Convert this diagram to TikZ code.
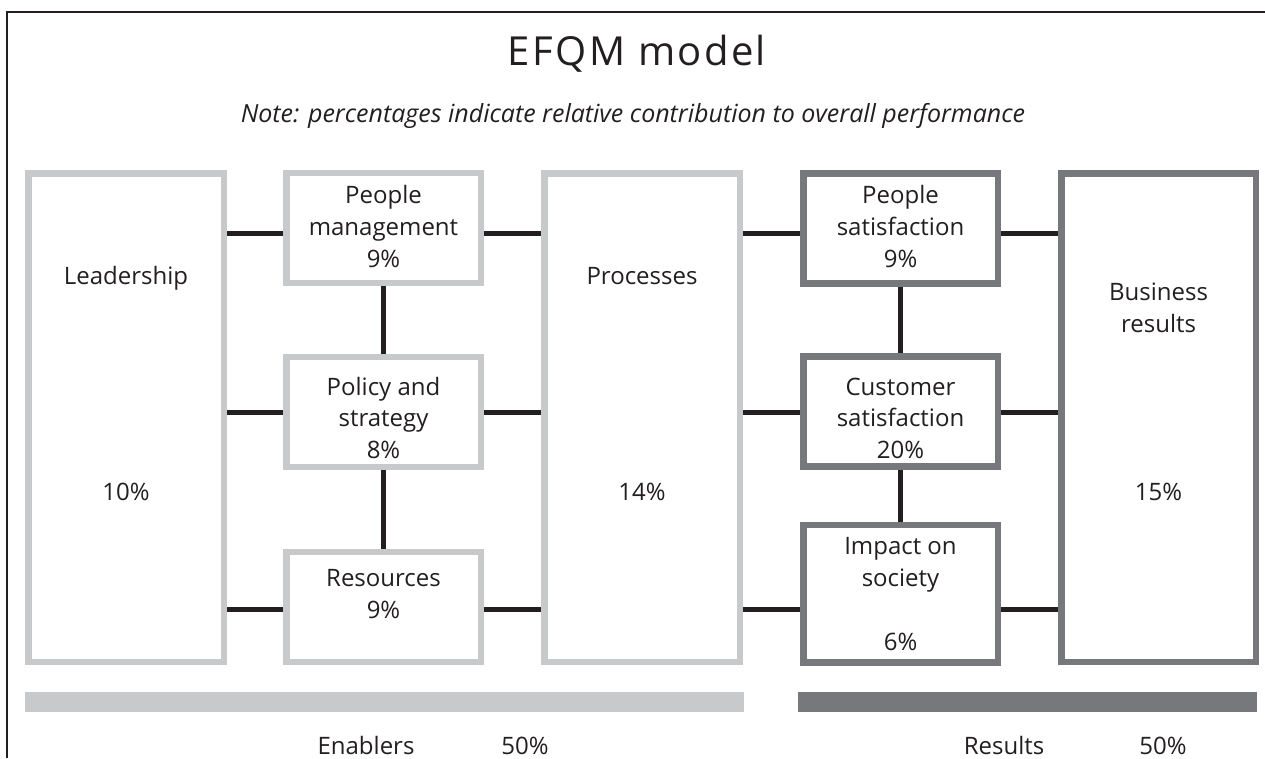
\documentclass[tikz,border=0pt]{standalone}
\usepackage{fontspec}
\setmainfont{Open Sans}
\newfontfamily\titlefont[LetterSpace=6]{Open Sans}
\usetikzlibrary{backgrounds}
\definecolor{ink}{HTML}{231F20}
\definecolor{lgray}{HTML}{C8C9CB}
\definecolor{dgray}{HTML}{77787B}
\tikzset{
  ebox/.style={draw=lgray, line width=6.5pt, fill=white, inner sep=0pt},
  rbox/.style={draw=dgray, line width=6.5pt, fill=white, inner sep=0pt},
  bigbox/.style={minimum width=195.5pt, minimum height=488.5pt},
  smallbox/.style={minimum width=194.5pt, minimum height=110pt},
  conn/.style={draw=ink, line width=5pt},
  txt/.style={font=\fontsize{24}{28}\selectfont, text=ink, inner sep=0pt, anchor=base},
  bar/.style={inner sep=0pt, anchor=north west, minimum height=20pt}
}
\begin{document}
\begin{tikzpicture}[x=1pt,y=-1pt]
\useasboundingbox (0,0) rectangle (1265,758);
% frame
\draw[ink, line width=2.5pt] (7,758) -- (7,12) -- (1265,12);
% title and note
\node[txt, font=\titlefont\fontsize{40}{48}\selectfont] (title) at (637,65) {EFQM model};
\node[txt, font=\fontsize{25}{30}\selectfont\itshape] (note) at (633,122) {Note: percentages indicate relative contribution to overall performance};
% enabler boxes
\node[ebox, bigbox] (lead) at (126,417.5) {};
\node[ebox, smallbox] (pm) at (383.5,228) {};
\node[ebox, smallbox] (pol) at (383.5,412) {};
\node[ebox, smallbox] (res) at (383.5,607) {};
\node[ebox, bigbox] (proc) at (642,417.5) {};
% result boxes
\node[rbox, smallbox] (ps) at (900.5,228.5) {};
\node[rbox, smallbox] (cs) at (900.5,411.5) {};
\node[rbox, smallbox, minimum height=137.5pt] (imp) at (900.5,593.5) {};
\node[rbox, bigbox, minimum width=194.5pt] (bus) at (1158.5,417.5) {};
% connectors
\coordinate (r1) at (0,233);
\coordinate (r2) at (0,412);
\coordinate (r3) at (0,609.5);
\begin{scope}[on background layer]
\draw[conn] (lead.east |- r1) -- (pm.west |- r1);
\draw[conn] (lead.east |- r2) -- (pol.west |- r2);
\draw[conn] (lead.east |- r3) -- (res.west |- r3);
\draw[conn] (pm.east |- r1) -- (proc.west |- r1);
\draw[conn] (pol.east |- r2) -- (proc.west |- r2);
\draw[conn] (res.east |- r3) -- (proc.west |- r3);
\draw[conn] (pm.south) -- (pol.north);
\draw[conn] (pol.south) -- (res.north);
\draw[conn] (proc.east |- r1) -- (ps.west |- r1);
\draw[conn] (proc.east |- r2) -- (cs.west |- r2);
\draw[conn] (proc.east |- r3) -- (imp.west |- r3);
\draw[conn] (ps.east |- r1) -- (bus.west |- r1);
\draw[conn] (cs.east |- r2) -- (bus.west |- r2);
\draw[conn] (imp.east |- r3) -- (bus.west |- r3);
\draw[conn] (ps.south) -- (cs.north);
\draw[conn] (cs.south) -- (imp.north);
\end{scope}
% box texts
\node[txt] (leadA) at (126,284) {Leadership};
\node[txt] (leadB) at (126,500) {10\%};
\node[txt] (pmA) at (383.5,203) {People};
\node[txt] (pmB) at (383.5,235) {management};
\node[txt] (pmC) at (383.5,267) {9\%};
\node[txt] (polA) at (383.5,395) {Policy and};
\node[txt] (polB) at (383.5,426) {strategy};
\node[txt] (polC) at (383.5,458) {8\%};
\node[txt] (resA) at (383.5,586) {Resources};
\node[txt] (resB) at (383.5,618) {9\%};
\node[txt] (procA) at (642,284) {Processes};
\node[txt] (procB) at (642,500) {14\%};
\node[txt] (psA) at (900.5,203) {People};
\node[txt] (psB) at (900.5,235) {satisfaction};
\node[txt] (psC) at (900.5,267) {9\%};
\node[txt] (csA) at (900.5,395) {Customer};
\node[txt] (csB) at (900.5,426) {satisfaction};
\node[txt] (csC) at (900.5,458) {20\%};
\node[txt] (impA) at (900.5,554) {Impact on};
\node[txt] (impB) at (900.5,586) {society};
\node[txt] (impC) at (900.5,650) {6\%};
\node[txt] (busA) at (1158.5,300) {Business};
\node[txt] (busB) at (1158.5,332) {results};
\node[txt] (busC) at (1158.5,500) {15\%};
% bars
\node[bar, fill=lgray, minimum width=719pt] (ebar) at (25,692) {};
\node[bar, fill=dgray, minimum width=459pt] (rbar) at (798,692) {};
\node[txt] (enab) at (366,754) {Enablers};
\node[txt] (enabp) at (525,754) {50\%};
\node[txt] (resl) at (1004,754) {Results};
\node[txt] (resp) at (1163,754) {50\%};
\end{tikzpicture}
\end{document}
